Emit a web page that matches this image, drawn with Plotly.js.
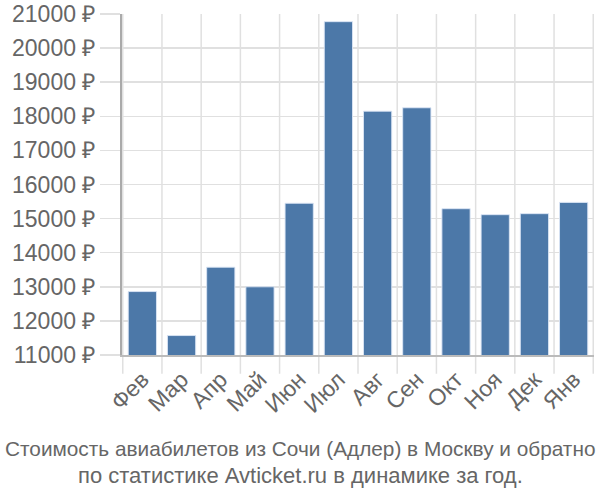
<!DOCTYPE html>
<html><head><meta charset="utf-8">
<script src="https://cdn.plot.ly/plotly-3.0.1.min.js"></script>
<style>html,body{margin:0;padding:0;background:#fff}#c{width:600px;height:500px}</style>
</head><body><div id="c"></div>
<script>
const months = ["Фев","Мар","Апр","Май","Июн","Июл","Авг","Сен","Окт","Ноя","Дек","Янв"];
const prices = [12860, 11570, 13575, 13000, 15450, 20775, 18150, 18250, 15290, 15115, 15145, 15475];
const yTicks = [11000,12000,13000,14000,15000,16000,17000,18000,19000,20000,21000];
const yTickLabels = yTicks.map(v => v + " ₽");
const titleLines = ["Стоимость авиабилетов из Сочи (Адлер) в Москву и обратно","по статистике Avticket.ru в динамике за год."];

const trace = {
  type: "bar", x: months, y: prices, width: 0.72,
  marker: {color: "#4c78a8", line: {color: "rgba(220,230,245,0.9)", width: 1}},
  hoverinfo: "none"
};
const layout = {
  width: 600, height: 500,
  margin: {l: 122, r: 6, t: 14, b: 145},
  paper_bgcolor: "#fff", plot_bgcolor: "#fff",
  font: {family: "Liberation Sans, Arial, sans-serif", color: "#666", size: 22},
  showlegend: false, bargap: 0.28,
  xaxis: {
    type: "category", tickangle: -45, showgrid: false,
    ticks: "", showline: true, linecolor: "#bbb", linewidth: 2,
    tickfont: {size: 23, color: "#666"}
  },
  yaxis: {
    range: [11000, 21000], tickvals: yTicks, ticktext: yTickLabels,
    showgrid: true, gridcolor: "#e0e0e0", gridwidth: 1.5,
    ticks: "outside", ticklen: 20, tickcolor: "#e0e0e0", tickwidth: 1.5,
    showline: true, linecolor: "#aaa", linewidth: 2, zeroline: false,
    tickfont: {size: 23, color: "#666"}
  },
  shapes: months.map((m, i) => ({
    type: "line", xref: "x", yref: "paper", x0: i - 0.5, x1: i - 0.5, y0: -0.055, y1: 1,
    line: {color: "#e0e0e0", width: 1.5}, layer: "below"
  })).concat([{type: "line", xref: "x", yref: "paper", x0: 11.5, x1: 11.5, y0: -0.055, y1: 1,
    line: {color: "#e0e0e0", width: 1.5}, layer: "below"}]),
  annotations: [
    {text: titleLines[0], xref: "paper", yref: "paper", x: 0.5, y: 0, xanchor: "center", yanchor: "middle",
     xshift: -58, yshift: -93, showarrow: false, font: {size: 20.8, color: "#666"}},
    {text: titleLines[1], xref: "paper", yref: "paper", x: 0.5, y: 0, xanchor: "center", yanchor: "middle",
     xshift: -58, yshift: -120, showarrow: false, font: {size: 22, color: "#666"}}
  ]
};
Plotly.newPlot("c", [trace], layout, {staticPlot: true});
</script></body></html>
